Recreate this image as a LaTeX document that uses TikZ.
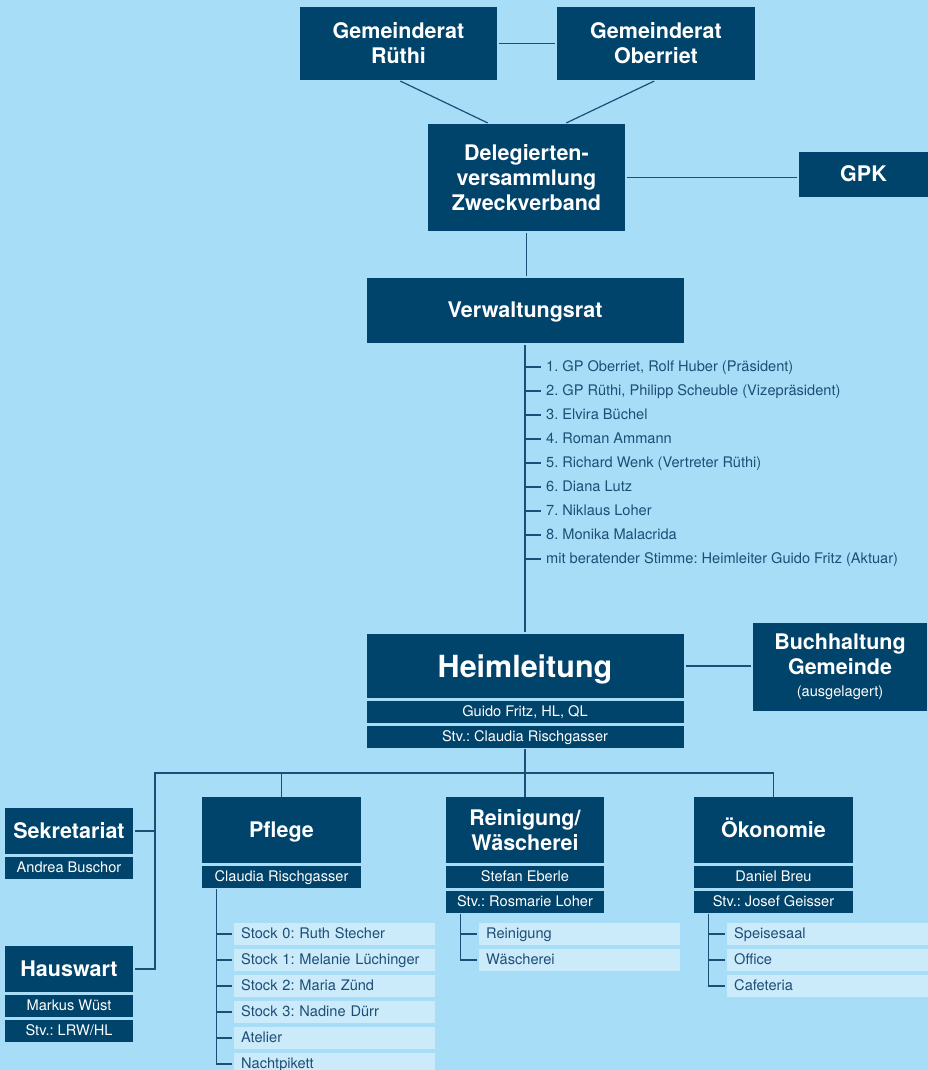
\documentclass[tikz,border=0pt]{standalone}
\usepackage{fontspec}
\setmainfont{TeX Gyre Heros}
\usepackage{xcolor}
\usetikzlibrary{positioning,calc}
\definecolor{bgblue}{HTML}{A8DDF7}
\definecolor{navy}{HTML}{00436B}
\definecolor{pale}{HTML}{CBEAFA}
\definecolor{ink}{HTML}{1E4E76}
\frenchspacing

\begin{document}
\begin{tikzpicture}[
    x=1pt, y=-1pt,
    node distance=2.5pt,
    head/.style={fill=navy, text=white, font=\bfseries\fontsize{21.5}{25}\selectfont, align=center, inner sep=0pt},
    one/.style={text height=18.5pt, text depth=4.5pt},
    sub/.style={fill=navy, text=white, font=\fontsize{14.6}{17}\selectfont, inner sep=0pt, minimum height=22pt, text height=12.5pt, text depth=3pt},
    item/.style={fill=pale, text=ink, font=\fontsize{14.6}{17}\selectfont, anchor=west, align=left, text width=187pt, inner xsep=7pt, inner ysep=0pt, minimum height=22pt, text height=12.5pt, text depth=3pt},
    memb/.style={text=ink, font=\fontsize{14.6}{17}\selectfont, anchor=west, inner ysep=0pt, inner xsep=5pt, text height=12.5pt, text depth=3pt},
    ln/.style={draw=ink, line width=1.2pt},
    gap/.style={shorten <=2pt, shorten >=2pt}
  ]
  \fill[bgblue] (0,0) rectangle (928,1070);
  \useasboundingbox (0,0) rectangle (928,1070);

  % Traegerschaft (top)
  \node[head, minimum width=197pt, minimum height=73pt] (gr) at (398.5,43.5) {Gemeinderat\\Rüthi};
  \node[head, minimum width=198pt, minimum height=73pt] (go) at (656,43.5) {Gemeinderat\\Oberriet};
  \node[head, minimum width=197pt, minimum height=107pt] (dv) at (526.5,177.5) {Delegierten-\\versammlung\\Zweckverband};
  \node[head, one, minimum width=129pt, minimum height=45pt] (gpk) at (863.5,174.5) {GPK};
  \node[head, one, minimum width=317pt, minimum height=65pt] (vr) at (525,310.5) {Verwaltungsrat};

  \draw[ln, gap] (gr.east) -- (go.west);
  \draw[ln, gap] (gr.south) -- ([xshift=-37pt]dv.north);
  \draw[ln, gap] (go.south) -- ([xshift=38pt]dv.north);
  \draw[ln, gap] (dv.east) -- (dv.east -| gpk.west);
  \draw[ln, gap] (dv.south) -- (dv.south |- vr.north);

  % Mitglieder Verwaltungsrat
  \node[memb] (m1) at (541,367) {1. GP Oberriet, Rolf Huber (Präsident)};
  \node[memb] (m2) at (541,391) {2. GP Rüthi, Philipp Scheuble (Vizepräsident)};
  \node[memb] (m3) at (541,415) {3. Elvira Büchel};
  \node[memb] (m4) at (541,439) {4. Roman Ammann};
  \node[memb] (m5) at (541,463) {5. Richard Wenk (Vertreter Rüthi)};
  \node[memb] (m6) at (541,487) {6. Diana Lutz};
  \node[memb] (m7) at (541,511) {7. Niklaus Loher};
  \node[memb] (m8) at (541,535) {8. Monika Malacrida};
  \node[memb] (m9) at (541,559) {mit beratender Stimme: Heimleiter Guido Fritz (Aktuar)};

  % Heimleitung
  \node[head, font=\bfseries\fontsize{30.5}{34}\selectfont, minimum width=317pt, minimum height=64pt, text height=26pt, text depth=4pt] (hl) at (525,666) {Heimleitung};
  \node[sub, minimum width=317pt, below=of hl] (hl1) {Guido Fritz, HL, QL};
  \node[sub, minimum width=317pt, below=of hl1] (hl2) {Stv.: Claudia Rischgasser};
  \node[head, minimum width=174pt, minimum height=88pt] (bh) at (840,667) {Buchhaltung\\Gemeinde\\[-3pt]{\mdseries\fontsize{14.6}{16}\selectfont (ausgelagert)}};

  \draw[ln, gap] (vr.south) -- (hl.north);
  \foreach \m in {m1,m2,m3,m4,m5,m6,m7,m8,m9}
    \draw[ln] (vr.south |- \m.west) -- (\m.west);
  \draw[ln, gap] (hl.east) -- (hl.east -| bh.west);

  % Bereiche
  \node[head, one, minimum width=128pt, minimum height=46pt] (sek) at (69,831) {Sekretariat};
  \node[sub, minimum width=128pt, below=of sek] (sek1) {Andrea Buschor};
  \node[head, one, minimum width=128pt, minimum height=46pt] (hw) at (69,969) {Hauswart};
  \node[sub, minimum width=128pt, below=of hw] (hw1) {Markus Wüst};
  \node[sub, minimum width=128pt, below=of hw1] (hw2) {Stv.: LRW/HL};

  \node[head, one, minimum width=159pt, minimum height=66pt] (pf) at (281.5,830) {Pflege};
  \node[sub, minimum width=159pt, below=of pf] (pf1) {Claudia Rischgasser};
  \node[head, minimum width=158pt, minimum height=66pt] (rw) at (525,830) {Reinigung/\\Wäscherei};
  \node[sub, minimum width=158pt, below=of rw] (rw1) {Stefan Eberle};
  \node[sub, minimum width=158pt, below=of rw1] (rw2) {Stv.: Rosmarie Loher};
  \node[head, one, minimum width=159pt, minimum height=66pt] (ok) at (773.5,830) {Ökonomie};
  \node[sub, minimum width=159pt, below=of ok] (ok1) {Daniel Breu};
  \node[sub, minimum width=159pt, below=of ok1] (ok2) {Stv.: Josef Geisser};

  \coordinate (lb) at (155,773);
  \coordinate (bus) at (hl2.south |- lb);
  \draw[ln] ([yshift=-1pt]hl2.south) -- (bus);
  \draw[ln] ([xshift=2pt]hw.east) -| (lb) -| (ok.north);
  \draw[ln] ([xshift=2pt]sek.east) -- (sek.east -| lb);
  \draw[ln] (pf.north) -- (pf.north |- lb);
  \draw[ln] (rw.north) -- (rw.north |- lb);

  % Pflege
  \node[item] (p0) at (234,934) {Stock 0: Ruth Stecher};
  \node[item, below=3.6pt of p0] (p1) {Stock 1: Melanie Lüchinger};
  \node[item, below=3.6pt of p1] (p2) {Stock 2: Maria Zünd};
  \node[item, below=3.6pt of p2] (p3) {Stock 3: Nadine Dürr};
  \node[item, below=3.6pt of p3] (p4) {Atelier};
  \node[item, below=3.6pt of p4] (p5) {Nachtpikett};
  \draw[ln] ([xshift=15pt,yshift=-1pt]pf1.south west) |- ([xshift=-2pt]p5.west);
  \foreach \p in {p0,p1,p2,p3,p4}
    \draw[ln] ([xshift=15pt]pf1.south west |- \p.west) -- ([xshift=-2pt]\p.west);

  % Reinigung/Waescherei
  \node[item] (r1) at (479,934) {Reinigung};
  \node[item, below=3.6pt of r1] (r2) {Wäscherei};
  \draw[ln] ([xshift=15pt,yshift=-1pt]rw2.south west) |- ([xshift=-2pt]r2.west);
  \draw[ln] ([xshift=15pt]rw2.south west |- r1.west) -- ([xshift=-2pt]r1.west);

  % Oekonomie
  \node[item] (o1) at (727,934) {Speisesaal};
  \node[item, below=3.6pt of o1] (o2) {Office};
  \node[item, below=3.6pt of o2] (o3) {Cafeteria};
  \draw[ln] ([xshift=15pt,yshift=-1pt]ok2.south west) |- ([xshift=-2pt]o3.west);
  \foreach \o in {o1,o2}
    \draw[ln] ([xshift=15pt]ok2.south west |- \o.west) -- ([xshift=-2pt]\o.west);
\end{tikzpicture}
\end{document}
